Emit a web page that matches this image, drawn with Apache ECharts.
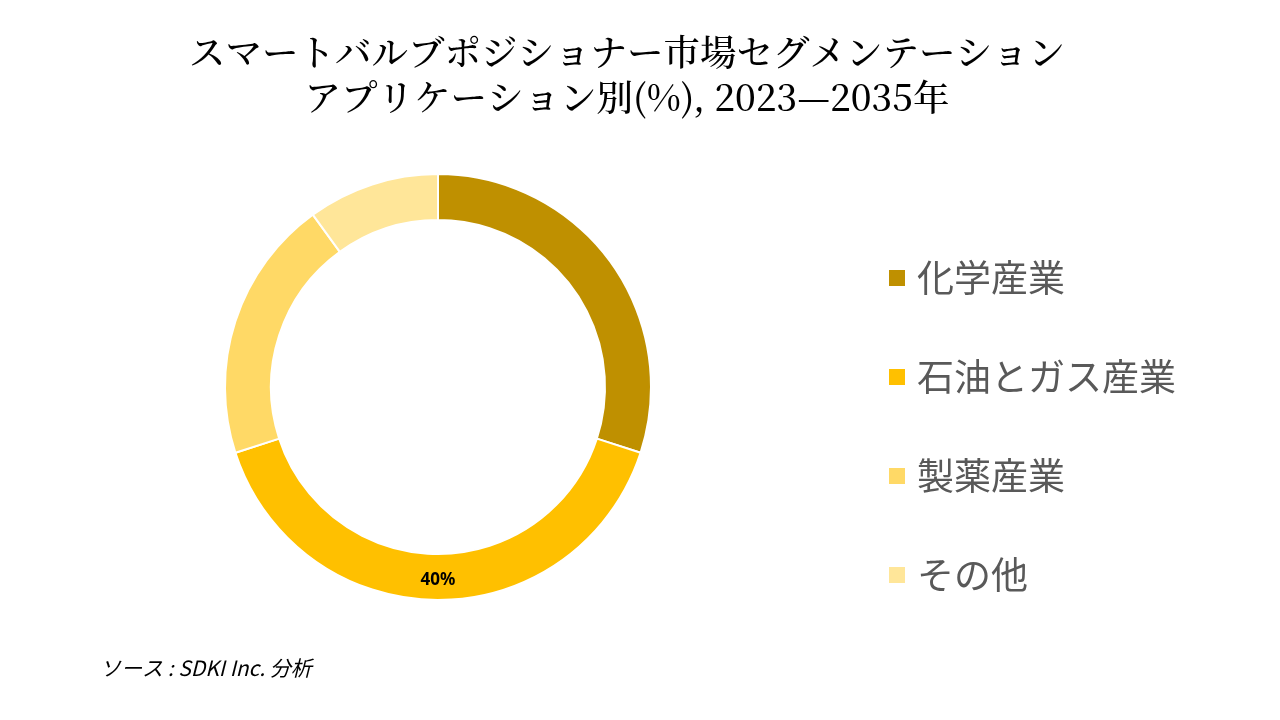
<!DOCTYPE html>
<html>
<head>
<meta charset="utf-8">
<script src="https://cdn.jsdelivr.net/npm/echarts@6/dist/echarts.min.js"></script>
<style>
html,body{margin:0;padding:0;background:#fff;}
#main{width:1280px;height:720px;}
</style>
</head>
<body>
<div id="main"></div>
<script>
const titleText = 'スマートバルブポジショナー市場セグメンテーション\nアプリケーション別(%), 2023—2035年';
const sourceText = 'ソース : SDKI Inc. 分析';
const categories = ['化学産業', '石油とガス産業', '製薬産業', 'その他'];
const values = [30, 40, 20, 10];
const colors = ['#BF9000', '#FFC000', '#FFD966', '#FFE699'];
const shownLabels = ['石油とガス産業'];

const chart = echarts.init(document.getElementById('main'));
chart.setOption({
  backgroundColor: '#ffffff',
  animation: false,
  legend: {
    orient: 'vertical',
    left: 887,
    top: 258,
    padding: 0,
    itemWidth: 18,
    itemHeight: 18,
    itemGap: 59,
    icon: 'rect',
    data: categories,
    textStyle: {
      fontFamily: '"Noto Sans CJK JP", sans-serif',
      fontSize: 37,
      color: '#595959',
      lineHeight: 40,
      padding: [0, 0, 0, 6]
    }
  },
  graphic: [{
    type: 'text',
    x: 627,
    y: 30,
    style: {
      text: titleText,
      fontFamily: '"Noto Serif CJK JP", "Noto Sans CJK JP", serif',
      fontSize: 36.5,
      fontWeight: 500,
      lineHeight: 45,
      align: 'center',
      verticalAlign: 'top',
      fill: '#000000'
    }
  }, {
    type: 'text',
    left: 100,
    top: 658,
    style: {
      text: sourceText,
      font: 'italic 21px "Noto Sans CJK JP", sans-serif',
      fill: '#000000'
    }
  }],
  series: [{
    type: 'pie',
    center: [438, 387],
    radius: [167, 213],
    startAngle: 90,
    clockwise: true,
    avoidLabelOverlap: false,
    itemStyle: { borderColor: '#ffffff', borderWidth: 2 },
    label: {
      show: true,
      position: 'inside',
      formatter: function (p) { return shownLabels.indexOf(p.name) >= 0 ? p.value + '%' : ''; },
      fontFamily: '"Noto Sans", "Open Sans", sans-serif',
      fontSize: 17,
      fontWeight: 'bold',
      color: '#000000'
    },
    labelLine: { show: false },
    emphasis: { disabled: true },
    data: categories.map((c, i) => ({ name: c, value: values[i], itemStyle: { color: colors[i] } }))
  }]
});
</script>
</body>
</html>
